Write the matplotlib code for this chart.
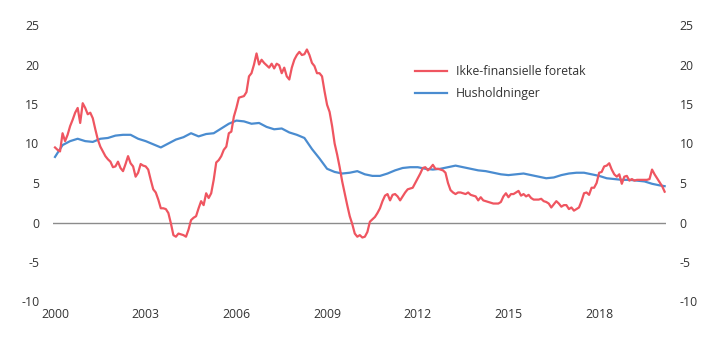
import numpy as np
import pandas as pd
import matplotlib
matplotlib.use("Agg")
import matplotlib.pyplot as plt

plt.rcParams["font.family"] = ["Open Sans", "DejaVu Sans"]

# Monthly growth, Jan 2000 - Mar 2020 (percent)
foretak = [
    9.5, 9.2, 9.0, 11.3, 10.3, 11.1, 12.2, 13.0, 13.9, 14.5,
    12.6, 15.1, 14.5, 13.7, 13.9, 13.2, 11.8, 10.5, 9.6, 9.0,
    8.4, 8.0, 7.7, 7.0, 7.1, 7.7, 6.9, 6.5, 7.4, 8.4,
    7.5, 7.1, 5.8, 6.3, 7.4, 7.2, 7.1, 6.7, 5.4, 4.2,
    3.8, 2.9, 1.8, 1.8, 1.7, 1.2, -0.1, -1.6, -1.8, -1.4,
    -1.5, -1.6, -1.8, -0.9, 0.3, 0.6, 0.8, 1.8, 2.7, 2.2,
    3.7, 3.1, 3.7, 5.4, 7.6, 7.9, 8.4, 9.2, 9.6, 11.3,
    11.5, 13.4, 14.5, 15.8, 15.9, 16.0, 16.5, 18.5, 18.9, 20.0,
    21.4, 20.0, 20.6, 20.2, 19.9, 19.6, 20.1, 19.5, 20.1, 19.9,
    18.9, 19.6, 18.5, 18.1, 19.6, 20.6, 21.2, 21.6, 21.2, 21.3,
    21.9, 21.2, 20.2, 19.8, 18.9, 18.9, 18.5, 16.6, 14.9, 14.0,
    12.2, 10.0, 8.6, 7.0, 5.2, 3.7, 2.2, 0.8, -0.2, -1.4,
    -1.8, -1.6, -1.9, -1.8, -1.2, 0.1, 0.4, 0.7, 1.2, 1.8,
    2.7, 3.4, 3.6, 2.8, 3.5, 3.6, 3.3, 2.8, 3.3, 3.8,
    4.2, 4.3, 4.4, 5.0, 5.6, 6.2, 6.9, 7.0, 6.6, 6.9,
    7.3, 6.8, 6.8, 6.7, 6.6, 6.3, 5.0, 4.1, 3.8, 3.6,
    3.8, 3.8, 3.7, 3.6, 3.8, 3.5, 3.4, 3.3, 2.8, 3.2,
    2.8, 2.7, 2.6, 2.5, 2.4, 2.4, 2.4, 2.6, 3.3, 3.7,
    3.2, 3.6, 3.6, 3.8, 4.0, 3.4, 3.6, 3.3, 3.5, 3.1,
    2.9, 2.9, 2.9, 3.0, 2.7, 2.6, 2.4, 1.9, 2.3, 2.7,
    2.4, 2.0, 2.2, 2.2, 1.7, 1.9, 1.5, 1.7, 1.9, 2.7,
    3.7, 3.8, 3.5, 4.4, 4.4, 5.0, 6.3, 6.4, 7.1, 7.2,
    7.5, 6.7, 6.1, 5.8, 6.1, 4.9, 5.8, 5.9, 5.3, 5.5,
    5.3, 5.4, 5.4, 5.4, 5.4, 5.4, 5.5, 6.7, 6.1, 5.6,
    5.1, 4.6, 3.9,
]

# Quarterly readings, Jan 2000 - Jan 2020, plus Mar 2020 (percent)
husholdninger = [
    8.3, 9.8, 10.3, 10.6, 10.3, 10.2, 10.6, 10.7, 11.0, 11.1,
    11.1, 10.6, 10.3, 9.9, 9.5, 10.0, 10.5, 10.8, 11.3, 10.9,
    11.2, 11.3, 11.9, 12.5, 12.9, 12.8, 12.5, 12.6, 12.1, 11.8,
    11.9, 11.4, 11.1, 10.7, 9.3, 8.1, 6.8, 6.4, 6.2, 6.3,
    6.5, 6.1, 5.9, 5.9, 6.2, 6.6, 6.9, 7.0, 7.0, 6.8,
    6.7, 6.8, 7.0, 7.2, 7.0, 6.8, 6.6, 6.5, 6.3, 6.1,
    6.0, 6.1, 6.2, 6.0, 5.8, 5.6, 5.7, 6.0, 6.2, 6.3,
    6.3, 6.1, 5.9, 5.6, 5.5, 5.4, 5.4, 5.3, 5.2, 4.9,
    4.7, 4.6,
]

series_labels = ["Ikke-finansielle foretak", "Husholdninger"]
year_ticks = [2000, 2003, 2006, 2009, 2012, 2015, 2018]
value_ticks = [-10, -5, 0, 5, 10, 15, 20, 25]

red_dates = pd.date_range("2000-01-01", periods=len(foretak), freq="MS")
blue_dates = pd.date_range("2000-01-01", "2020-01-01", freq="QS").append(
    pd.DatetimeIndex(["2020-03-01"]))


def decimal_year(idx):
    return idx.year + (idx.month - 1) / 12.0


RED = "#EF5560"
BLUE = "#4A8CD0"
TEXT = "#333333"

fig = plt.figure(figsize=(7.2, 3.41), dpi=100)
ax = fig.add_axes([53.3 / 720, 1 - 301.5 / 341, (665.7 - 53.3) / 720, (301.5 - 25) / 341])

ax.axhline(0, color="#8c8c8c", lw=1.0, zorder=1)
ax.plot(decimal_year(red_dates), foretak, color=RED, lw=1.6, label=series_labels[0],
        solid_joinstyle="round", zorder=3)
ax.plot(decimal_year(blue_dates), husholdninger, color=BLUE, lw=1.6, label=series_labels[1],
        solid_joinstyle="round", zorder=2)

ax.set_xlim(2000 - 1.7 / 30.23, 2000 + (665.7 - 55) / 30.23)
ax.set_ylim(-10, 25)
ax.set_xticks(year_ticks)
ax.set_xticklabels([str(y) for y in year_ticks])
ax.set_yticks(value_ticks)
ax.set_yticklabels([str(v) for v in value_ticks])
ax.tick_params(axis="both", length=0, labelsize=8.8, colors=TEXT)
ax.tick_params(axis="y", labelright=True, pad=10)
ax.tick_params(axis="x", pad=5)
for s in ax.spines.values():
    s.set_visible(False)

leg = fig.legend(loc="upper left", bbox_to_anchor=(415 / 720, 1 - 65 / 341),
                 frameon=False, fontsize=8.8, handlelength=2.6, handletextpad=0.75,
                 labelspacing=0.75, borderpad=0, borderaxespad=0)
for t in leg.get_texts():
    t.set_color(TEXT)

fig.savefig("out.png", dpi=100)
